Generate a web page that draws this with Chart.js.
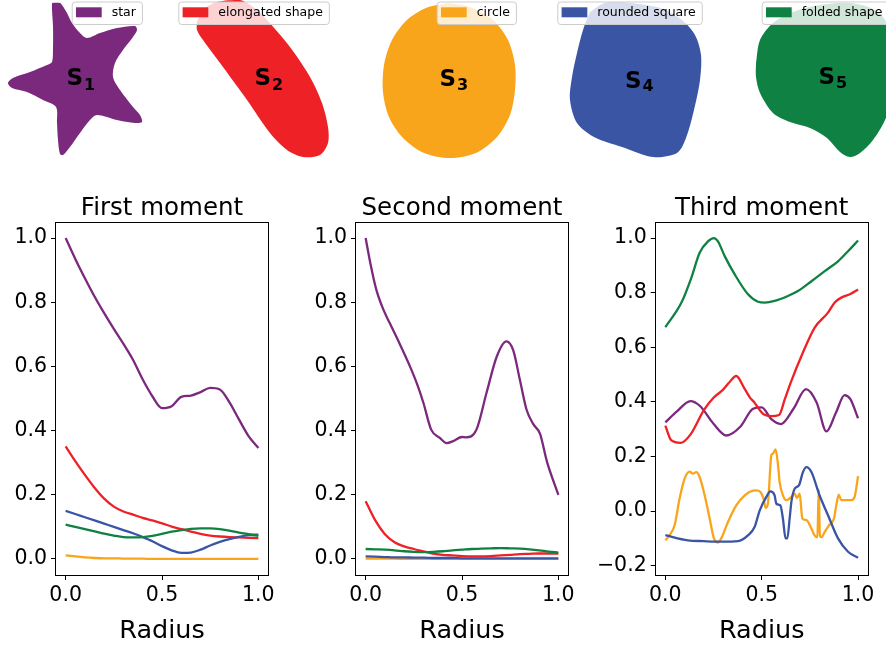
<!DOCTYPE html>
<html>
<head>
<meta charset="utf-8">
<script src="https://cdn.jsdelivr.net/npm/chart.js@4.4.1/dist/chart.umd.min.js"></script>
<style>
  body { margin: 0; background: #fff; width: 886px; height: 647px; overflow: hidden; position: relative; }
  canvas { position: absolute; }
</style>
</head>
<body>
<canvas id="shapes" width="886" height="170" style="left:0px;top:0px"></canvas>
<canvas id="m1" width="290" height="467" style="left:0px;top:180px"></canvas>
<canvas id="m2" width="290" height="467" style="left:300px;top:180px"></canvas>
<canvas id="m3" width="296" height="467" style="left:590px;top:180px"></canvas>
<script>
// ---- shapes (names, colours, outlines) ----
const SHAPE_NAMES  = ['star', 'elongated shape', 'circle', 'rounded square', 'folded shape'];
const SHAPE_COLORS = ['#7b297d', '#ee2226', '#f9a51b', '#3b55a5', '#0f8142'];

const STAR_OUTLINE = [[52,3],[60,3],[62,5],[67,13],[72,23],[80,33],[87,38],[100,33],[117,28],[135,26],[137,30],[133,37],[123,50],[115,63],[113,77],[120,90],[133,107],[140,115],[142,122],[135,123],[117,120],[97,115],[90,120],[80,133],[70,147],[63,155],[60,154],[58,140],[57,123],[56,107],[43,100],[27,92],[12,88],[8,83],[13,78],[30,72],[47,65],[52,62],[53,47],[53,27],[52,10],[52,3]];
const ELONG_OUTLINE = [[197,22],[203,10],[217,2],[240,0],[257,10],[267,20],[290,47],[310,77],[322,103],[328,127],[328,143],[320,155],[303,157],[287,150],[270,133],[247,100],[223,67],[203,40],[197,30],[197,22]];
const CIRCLE_OUTLINE = [[448,3],[470,7],[493,20],[508,40],[515,65],[515,90],[510,115],[497,137],[476,153],[450,158],[424,153],[403,138],[389,117],[383,92],[384,65],[392,40],[407,20],[426,8],[448,3]];
const SQUARE_OUTLINE = [[590,12],[605,3],[630,3],[660,8],[682,20],[695,35],[701,55],[700,80],[694,110],[686,138],[677,153],[653,157],[622,147],[594,137],[577,123],[570,100],[572,77],[577,53],[583,30],[590,12]];
const FOLDED_OUTLINE = [[756,63],[760,40],[773,23],[793,12],[820,5],[850,3],[875,10],[888,25],[895,60],[893,95],[885,120],[873,140],[860,153],[850,157],[840,152],[827,138],[810,128],[790,122],[773,113],[760,93],[756,77],[756,63]];
const OUTLINES = [STAR_OUTLINE, ELONG_OUTLINE, CIRCLE_OUTLINE, SQUARE_OUTLINE, FOLDED_OUTLINE];

// ---- moments ----
const X_TICKS = [0, 0.5, 1.0];
const Y_TICKS_12 = [0, 0.2, 0.4, 0.6, 0.8, 1.0];
const Y_TICKS_3  = [-0.2, 0, 0.2, 0.4, 0.6, 0.8, 1.0];

const RADIUS = [0, .05, .1, .15, .2, .25, .3, .35, .4, .45, .5, .55, .6, .65, .7, .75, .8, .85, .9, .95, 1];

const FIRST_STAR   = [1.0, .935, .875, .818, .766, .717, .67, .62, .559, .507, .47, .476, .505, .509, .52, .533, .528, .488, .434, .382, .346];
const FIRST_ELONG  = [.351, .305, .262, .222, .188, .163, .148, .138, .128, .12, .111, .101, .093, .085, .078, .073, .07, .068, .067, .066, .065];
const FIRST_CIRCLE = [.011, .008, .005, .003, .002, .002, .001, .001, .001, 0, 0, 0, 0, 0, 0, 0, 0, 0, 0, 0, 0];
const FIRST_SQUARE = [.15, .14, .13, .12, .11, .1, .09, .08, .068, .055, .04, .027, .019, .02, .029, .042, .053, .062, .069, .074, .076];
const FIRST_FOLDED = [.107, .1, .093, .086, .079, .073, .068, .067, .068, .072, .078, .085, .09, .094, .095, .095, .093, .088, .082, .077, .072];

const SECOND_STAR_R = [0, .025, .055, .09, .125, .177, .23, .27, .3, .34, .385, .42, .454, .5, .52, .575, .627, .68, .73, .766, .8, .835, .87, .905, .94, 1.0];
const SECOND_STAR   = [1.0, .92, .84, .78, .735, .67, .6, .54, .486, .403, .377, .361, .367, .38, .379, .403, .517, .63, .678, .65, .559, .465, .42, .39, .305, .2];
const SECOND_ELONG  = [.18, .12, .077, .052, .039, .031, .024, .017, .013, .011, .009, .008, .008, .009, .011, .013, .015, .016, .017, .017, .017];
const SECOND_CIRCLE = [.001, .001, .001, .001, 0, 0, 0, 0, 0, 0, 0, 0, 0, 0, 0, 0, 0, 0, 0, 0, 0];
const SECOND_SQUARE = [.008, .007, .006, .005, .005, .004, .004, .003, .003, .003, .002, .002, .002, .002, .002, .002, .002, .002, .002, .002, .002];
const SECOND_FOLDED = [.031, .03, .029, .027, .024, .022, .021, .022, .024, .027, .029, .031, .032, .033, .034, .033, .032, .03, .027, .023, .02];

const THIRD_STAR_R = [0, .06, .13, .18, .25, .317, .39, .455, .5, .55, .6, .665, .73, .785, .836, .885, .93, .96, 1];
const THIRD_STAR   = [.325, .365, .403, .385, .32, .277, .31, .375, .38, .337, .319, .375, .447, .398, .292, .36, .425, .41, .34];
const THIRD_ELONG_R = [0, .03, .08, .13, .2, .25, .3, .33, .368, .41, .44, .46, .49, .51, .55, .59, .62, .65, .714, .775, .844, .88, .913, .96, 1.0];
const THIRD_ELONG   = [.313, .26, .25, .28, .37, .415, .445, .47, .495, .45, .415, .40, .37, .355, .348, .352, .41, .47, .581, .672, .727, .765, .782, .795, .812];
const THIRD_CIRCLE_R = [0, .022, .048, .074, .1, .126, .143, .161, .178, .204, .23, .252, .273, .29, .325, .368, .412, .455, .472, .493, .51, .52, .532, .55, .557, .572, .585, .593, .61, .628, .654, .671, .683, .697, .711, .732, .758, .775, .789, .796, .802, .81, .827, .849, .875, .887, .9, .913, .94, .966, .982, 1.0];
const THIRD_CIRCLE   = [-.107, -.088, -.052, .046, .119, .145, .137, .143, .125, .058, -.027, -.1, -.115, -.1, -.04, .021, .058, .075, .076, .07, .046, .012, .027, .204, .21, .226, .167, .107, .058, .04, .052, .064, .048, .064, -.027, -.033, -.064, -.09, -.096, .08, -.09, -.096, -.076, -.052, -.027, .021, .06, .04, .04, .04, .052, .128];
const THIRD_SQUARE_R = [0, .117, .2, .29, .377, .43, .463, .49, .524, .545, .567, .576, .597, .61, .624, .633, .645, .654, .671, .693, .714, .732, .758, .8, .844, .896, .948, 1.0];
const THIRD_SQUARE   = [-.088, -.107, -.11, -.112, -.11, -.088, -.058, .003, .052, .072, .058, .027, .021, -.027, -.1, -.1, -.027, .034, .082, .094, .143, .161, .143, .058, -.015, -.1, -.149, -.171];
const THIRD_FOLDED_R = [0, .083, .135, .178, .221, .252, .273, .308, .36, .429, .481, .516, .567, .636, .688, .758, .827, .896, .948, 1];
const THIRD_FOLDED   = [.674, .763, .855, .946, .988, 1.0, .988, .934, .867, .794, .767, .764, .77, .788, .806, .842, .879, .915, .952, .991];

const FONT = 'DejaVu Sans';
const pts = (xs, ys) => xs.map((x, i) => ({ x: x, y: ys[i] }));
const fmt = v => (v < 0 ? '\u2212' : '') + Math.abs(v).toFixed(1);

// ---- top row: filled shapes ----
const shapeLabels = {
  id: 'shapeLabels',
  afterDraw(chart) {
    const ctx = chart.ctx;
    // S_i labels: [x, S baseline, subscript baseline]
    const pos = [[66.5, 85, 89.5], [254.5, 85, 89.5], [439.5, 86, 89.5], [625, 88, 91], [818.5, 83.5, 87.5]];
    ctx.save();
    ctx.fillStyle = '#000';
    ctx.textBaseline = 'alphabetic';
    ctx.textAlign = 'left';
    pos.forEach((p, i) => {
      ctx.font = 'bold 23px ' + FONT;
      ctx.fillText('S', p[0], p[1]);
      const w = ctx.measureText('S').width;
      ctx.font = 'bold 16px ' + FONT;
      ctx.fillText(String(i + 1), p[0] + w + 1, p[2]);
    });

    // legends (one per subplot, upper right)
    const textX = [111.7, 218.3, 476.7, 597.3, 801.7];
    ctx.font = '12.5px ' + FONT;
    ctx.textBaseline = 'middle';
    SHAPE_NAMES.forEach((name, i) => {
      const tw = ctx.measureText(name).width;
      const x0 = textX[i] - 40, x1 = textX[i] + tw + 6;
      const y0 = 1.5, y1 = 24;
      ctx.beginPath();
      ctx.roundRect(x0 + 0.5, y0 + 0.5, x1 - x0, y1 - y0, 3);
      ctx.fillStyle = 'rgba(255,255,255,0.8)';
      ctx.fill();
      ctx.strokeStyle = '#cccccc';
      ctx.lineWidth = 1;
      ctx.stroke();
      ctx.fillStyle = SHAPE_COLORS[i];
      ctx.fillRect(textX[i] - 35.7, 7.3, 25.7, 10);
      ctx.fillStyle = '#000';
      ctx.fillText(name, textX[i], 13);
    });
    ctx.restore();
  }
};

new Chart(document.getElementById('shapes'), {
  type: 'scatter',
  data: {
    datasets: OUTLINES.map((o, i) => ({
      label: SHAPE_NAMES[i],
      data: o.map(p => ({ x: p[0], y: p[1] })),
      showLine: true,
      fill: 'shape',
      tension: 0.3,
      backgroundColor: SHAPE_COLORS[i],
      borderWidth: 0,
      pointRadius: 0
    }))
  },
  options: {
    responsive: false,
    animation: false,
    layout: { padding: 0 },
    plugins: { legend: { display: false }, tooltip: { enabled: false } },
    scales: {
      x: { type: 'linear', min: 0, max: 886, display: false },
      y: { type: 'linear', min: 0, max: 170, reverse: true, display: false }
    }
  },
  plugins: [shapeLabels]
});

// ---- moment panels ----
const frame = {
  id: 'frame',
  afterDraw(chart) {
    const a = chart.chartArea, ctx = chart.ctx;
    ctx.save();
    ctx.strokeStyle = '#000';
    ctx.lineWidth = 1;
    ctx.strokeRect(Math.round(a.left) - 0.5, Math.round(a.top) + 0.5, Math.round(a.right - a.left) + 1, Math.round(a.bottom - a.top));
    ctx.restore();
  }
};

function momentChart(id, title, series, yTicks, yMin, yMax, yWidth, padRight) {
  const tickFont = { family: FONT, size: 20.5 };
  const grid = { display: true, drawOnChartArea: false, drawTicks: true, tickLength: 5, color: '#000', lineWidth: 1 };
  return new Chart(document.getElementById(id), {
    type: 'line',
    data: {
      datasets: series.map((s, i) => ({
        data: pts(s[0], s[1]),
        borderColor: SHAPE_COLORS[i],
        borderWidth: 2.3,
        pointRadius: 0,
        fill: false,
        cubicInterpolationMode: 'monotone',
        borderJoinStyle: 'round',
        order: series.length - i
      }))
    },
    options: {
      responsive: false,
      animation: false,
      layout: { padding: { left: 0, right: padRight, top: 0, bottom: 0 } },
      plugins: {
        legend: { display: false },
        tooltip: { enabled: false },
        title: {
          display: true, text: title, fullSize: false, color: '#000',
          font: { family: FONT, size: 24.5, weight: 'normal', lineHeight: 1 },
          padding: { top: 16.5, bottom: 1 }
        }
      },
      scales: {
        x: {
          type: 'linear', min: -0.05, max: 1.05,
          afterBuildTicks: s => { s.ticks = X_TICKS.map(v => ({ value: v })); },
          afterFit: s => { s.height = 72; },
          grid: grid, border: { display: false },
          ticks: { color: '#000', font: tickFont, padding: 3.5, maxRotation: 0, autoSkip: false, callback: fmt },
          title: { display: true, text: 'Radius', color: '#000', font: { family: FONT, size: 25.5, lineHeight: 1 }, padding: { top: 0, bottom: 2.5 } }
        },
        y: {
          type: 'linear', min: yMin, max: yMax,
          afterBuildTicks: s => { s.ticks = yTicks.map(v => ({ value: v })); },
          afterFit: s => { s.width = yWidth; },
          grid: grid, border: { display: false },
          ticks: { color: '#000', font: tickFont, padding: 4, autoSkip: false, callback: fmt }
        }
      }
    },
    plugins: [frame]
  });
}

momentChart('m1', 'First moment', [
  [RADIUS, FIRST_STAR], [RADIUS, FIRST_ELONG], [RADIUS, FIRST_CIRCLE], [RADIUS, FIRST_SQUARE], [RADIUS, FIRST_FOLDED]
], Y_TICKS_12, -0.05, 1.05, 56, 22);

momentChart('m2', 'Second moment', [
  [SECOND_STAR_R, SECOND_STAR], [RADIUS, SECOND_ELONG], [RADIUS, SECOND_CIRCLE], [RADIUS, SECOND_SQUARE], [RADIUS, SECOND_FOLDED]
], Y_TICKS_12, -0.05, 1.05, 56, 22);

momentChart('m3', 'Third moment', [
  [THIRD_STAR_R, THIRD_STAR], [THIRD_ELONG_R, THIRD_ELONG], [THIRD_CIRCLE_R, THIRD_CIRCLE], [THIRD_SQUARE_R, THIRD_SQUARE], [THIRD_FOLDED_R, THIRD_FOLDED]
], Y_TICKS_3, -0.234, 1.059, 65.7, 18.3);
</script>
</body>
</html>
